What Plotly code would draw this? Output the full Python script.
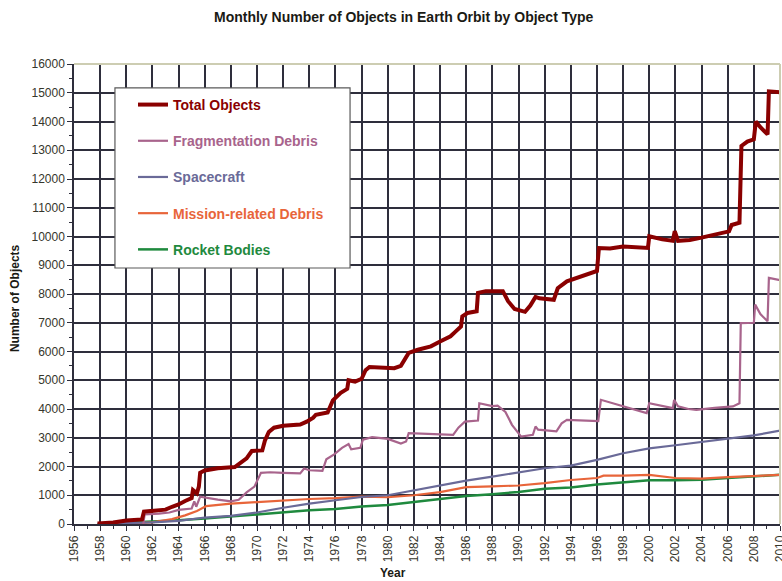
import plotly.graph_objects as go

# ---------------- data ----------------
total_years = [1957.8, 1959.0, 1960.0, 1961.2, 1961.35, 1962.0, 1963.0, 1963.5, 1964.0, 1964.5,
               1965.0, 1965.1, 1965.4, 1965.55, 1965.65, 1966.0, 1967.0, 1968.3, 1968.7, 1969.2,
               1969.6, 1970.4, 1970.6, 1970.9, 1971.3, 1972.0, 1973.3, 1973.8, 1974.3, 1974.5,
               1975.4, 1975.8, 1976.4, 1976.9, 1977.0, 1977.5, 1978.0, 1978.3, 1978.6, 1979.5,
               1980.5, 1981.0, 1981.3, 1981.6, 1982.3, 1983.3, 1984.0, 1984.8, 1985.2, 1985.6,
               1985.7, 1986.1, 1986.8, 1986.9, 1987.5, 1988.8, 1989.2, 1989.7, 1990.5, 1990.9,
               1991.3, 1991.6, 1992.7, 1993.0, 1993.7, 1994.7, 1995.5, 1996.0, 1996.15, 1997.0,
               1998.0, 1999.0, 1999.9, 2000.0, 2001.0, 2001.8, 2001.95, 2002.2, 2003.1, 2004.0,
               2005.0, 2006.1, 2006.3, 2006.9, 2007.05, 2007.5, 2008.0, 2008.15, 2008.5, 2009.05,
               2009.15, 2010.0]
total_objects = [20, 50, 120, 160, 430, 450, 500, 600, 680, 800,
                 900, 1180, 1070, 1300, 1780, 1860, 1940, 1980, 2100, 2280,
                 2540, 2560, 2900, 3200, 3350, 3420, 3460, 3560, 3700, 3800,
                 3880, 4300, 4560, 4700, 5000, 4950, 5050, 5350, 5460, 5430,
                 5420, 5500, 5720, 5950, 6060, 6180, 6350, 6530, 6700, 6870,
                 7220, 7340, 7400, 8040, 8100, 8100, 7750, 7480, 7380, 7600,
                 7900, 7850, 7800, 8200, 8440, 8600, 8750, 8800, 9600, 9580,
                 9650, 9620, 9600, 10010, 9900, 9850, 10190, 9850, 9880, 9960,
                 10080, 10180, 10400, 10480, 13150, 13300, 13380, 14000, 13800, 13550,
                 15050, 15020]

frag_years = [1961.3, 1961.4, 1962.5, 1963.3, 1964.0, 1965.0, 1965.2, 1965.35, 1965.65, 1966.0,
              1967.0, 1968.0, 1968.6, 1969.2, 1969.8, 1970.3, 1971.0, 1972.0, 1973.3, 1973.6,
              1974.0, 1975.0, 1975.3, 1975.9, 1976.5, 1977.0, 1977.2, 1977.9, 1978.1, 1978.8,
              1980.0, 1981.0, 1981.4, 1981.6, 1983.0, 1985.0, 1985.4, 1985.9, 1986.9, 1987.0,
              1988.0, 1988.4, 1989.0, 1989.5, 1990.2, 1991.1, 1991.3, 1991.5, 1992.9, 1993.3,
              1993.7, 1996.1, 1996.3, 1997.0, 1998.2, 1999.0, 1999.8, 2000.0, 2001.0, 2001.8,
              2001.9, 2002.2, 2003.0, 2003.6, 2005.0, 2006.4, 2006.9, 2007.0, 2008.0, 2008.1,
              2008.5, 2009.05, 2009.15, 2010.0]
frag_debris = [0, 330, 360, 400, 490, 540, 790, 600, 950, 920,
               850, 790, 840, 1100, 1300, 1780, 1800, 1780, 1760, 1930,
               1870, 1850, 2250, 2420, 2650, 2780, 2600, 2650, 2930, 3020,
               2960, 2800, 2870, 3160, 3130, 3100, 3350, 3560, 3600, 4200,
               4100, 4120, 3900, 3450, 3040, 3100, 3390, 3280, 3220, 3500,
               3620, 3580, 4320, 4230, 4090, 3980, 3860, 4200, 4100, 4030,
               4320, 4090, 4000, 3970, 4040, 4090, 4200, 6990, 7000, 7630,
               7300, 7050, 8560, 8480]

even_years = [1957.8, 1960, 1962, 1964, 1966, 1968, 1970, 1972, 1974, 1976, 1978, 1980, 1982,
              1984, 1986, 1988, 1990, 1992, 1994, 1996, 1998, 2000, 2002, 2004, 2006, 2008, 2010]
spacecraft = [0, 20, 60, 110, 225, 280, 400, 565, 710, 825, 940, 1000, 1170,
              1340, 1510, 1650, 1800, 1940, 2030, 2230, 2460, 2630, 2740, 2850, 2970, 3080, 3250]

mission_years = [1957.8, 1960.0, 1962.0, 1963.5, 1964.5, 1965.4, 1966.1, 1968.0, 1970.0, 1972.0,
                 1974.0, 1976.0, 1978.0, 1980.0, 1982.0, 1984.0, 1986.0, 1988.0, 1990.0, 1992.0,
                 1994.0, 1996.0, 1996.5, 1998.0, 2000.0, 2002.0, 2004.0, 2006.0, 2008.0, 2010.0]
mission_debris = [0, 10, 60, 170, 300, 450, 620, 710, 760, 825,
                  870, 900, 950, 930, 1000, 1110, 1285, 1310, 1340, 1420,
                  1530, 1600, 1680, 1680, 1710, 1600, 1580, 1630, 1680, 1710]

rocket_bodies = [0, 40, 80, 130, 190, 260, 340, 410, 475, 520, 610, 660, 770,
                 885, 970, 1035, 1115, 1230, 1270, 1370, 1450, 1520, 1520, 1540, 1600, 1650, 1710]

x_ticks = list(range(1956, 2011, 2))
x_minor = list(range(1957, 2010, 2))

# ---------------- styling ----------------
FONT = "Liberation Sans, Arial, sans-serif"
GRID = "#2e2e3c"
TXT = "#36362c"
C_TOTAL = "#8a0000"
C_FRAG = "#a8648c"
C_SC = "#6a6a98"
C_MIS = "#e8653a"
C_RB = "#1f8a3e"


def lab(text, color):
    return f'<b><span style="color:{color}">{text}</span></b>'


fig = go.Figure()
fig.add_trace(go.Scatter(x=even_years, y=rocket_bodies, mode="lines", name=lab("Rocket Bodies", C_RB),
                         line=dict(color=C_RB, width=2.5), legendgroup="e", legendrank=5))
fig.add_trace(go.Scatter(x=mission_years, y=mission_debris, mode="lines", name=lab("Mission-related Debris", C_MIS),
                         line=dict(color=C_MIS, width=2.2), legendgroup="d", legendrank=4))
fig.add_trace(go.Scatter(x=even_years, y=spacecraft, mode="lines", name=lab("Spacecraft", C_SC),
                         line=dict(color=C_SC, width=2.2), legendgroup="c", legendrank=3))
fig.add_trace(go.Scatter(x=frag_years, y=frag_debris, mode="lines", name=lab("Fragmentation Debris", C_FRAG),
                         line=dict(color=C_FRAG, width=2.2), legendgroup="b", legendrank=2))
fig.add_trace(go.Scatter(x=total_years, y=total_objects, mode="lines", name=lab("Total Objects", C_TOTAL),
                         line=dict(color=C_TOTAL, width=4), legendgroup="a", legendrank=1))

fig.update_layout(
    width=782, height=581,
    margin=dict(l=74, r=2, t=64, b=57),
    plot_bgcolor="white", paper_bgcolor="white",
    font=dict(family=FONT, size=12, color=TXT),
    showlegend=True,
    legend=dict(x=0.0836, y=0.9457, xanchor="left", yanchor="top",
                bgcolor="rgba(0,0,0,0)", borderwidth=0,
                font=dict(family=FONT, size=14), tracegroupgap=15),
)

fig.update_xaxes(
    range=[1956, 2010], tickvals=x_ticks, ticktext=[str(v) for v in x_ticks], tickangle=-90,
    showgrid=True, gridcolor=GRID, gridwidth=1.5,
    ticks="outside", ticklen=5, tickcolor=GRID, tickwidth=1.2,
    minor=dict(tickvals=x_minor, ticks="outside", ticklen=3, tickcolor=GRID, showgrid=False),
    showline=True, linecolor=GRID, linewidth=1.5, zeroline=False, automargin=False,
    ticklabeloverflow="allow",
    tickfont=dict(family=FONT, size=12, color=TXT),
)
fig.update_yaxes(
    range=[0, 16000], dtick=1000, tick0=0, tickformat="d",
    showgrid=True, gridcolor=GRID, gridwidth=1.5,
    ticks="outside", ticklen=5, tickcolor=GRID, tickwidth=1.2,
    minor=dict(dtick=500, ticks="outside", ticklen=3, tickcolor=GRID, showgrid=False),
    showline=True, linecolor=GRID, linewidth=1.5, zeroline=False, automargin=False,
    tickfont=dict(family=FONT, size=12, color=TXT),
)

# light top/right frame and legend box
fig.add_shape(type="line", xref="paper", yref="paper", x0=0, x1=1, y0=1, y1=1,
              line=dict(color="#cdcdb2", width=2), layer="above")
fig.add_shape(type="line", xref="paper", yref="paper", x0=1, x1=1, y0=0, y1=1,
              line=dict(color="#cdcdb2", width=2), layer="above")
fig.add_shape(type="rect", xref="paper", yref="paper", x0=0.058, x1=0.391, y0=0.5565, y1=0.948,
              fillcolor="white", line=dict(color="#5a5a5a", width=1.2), layer="above")

fig.add_annotation(text="<b>Monthly Number of Objects in Earth Orbit by Object Type</b>",
                   xref="paper", yref="paper", x=0.4674, y=1.102, showarrow=False,
                   xanchor="center", yanchor="middle", font=dict(family=FONT, size=14, color="#1a1a14"))
fig.add_annotation(text="<b>Number of Objects</b>", xref="paper", yref="paper",
                   x=-0.0836, y=0.491, showarrow=False, textangle=-90,
                   xanchor="center", yanchor="middle", font=dict(family=FONT, size=12, color="#1a1a14"))
fig.add_annotation(text="<b>Year</b>", xref="paper", yref="paper",
                   x=0.452, y=-0.1065, showarrow=False,
                   xanchor="center", yanchor="middle", font=dict(family=FONT, size=12, color="#1a1a14"))

fig.write_html("out.html",
               config={"displayModeBar": False},
               post_script="document.body.style.margin='0';document.body.style.padding='0';"
                           "document.documentElement.style.overflow='hidden';")
